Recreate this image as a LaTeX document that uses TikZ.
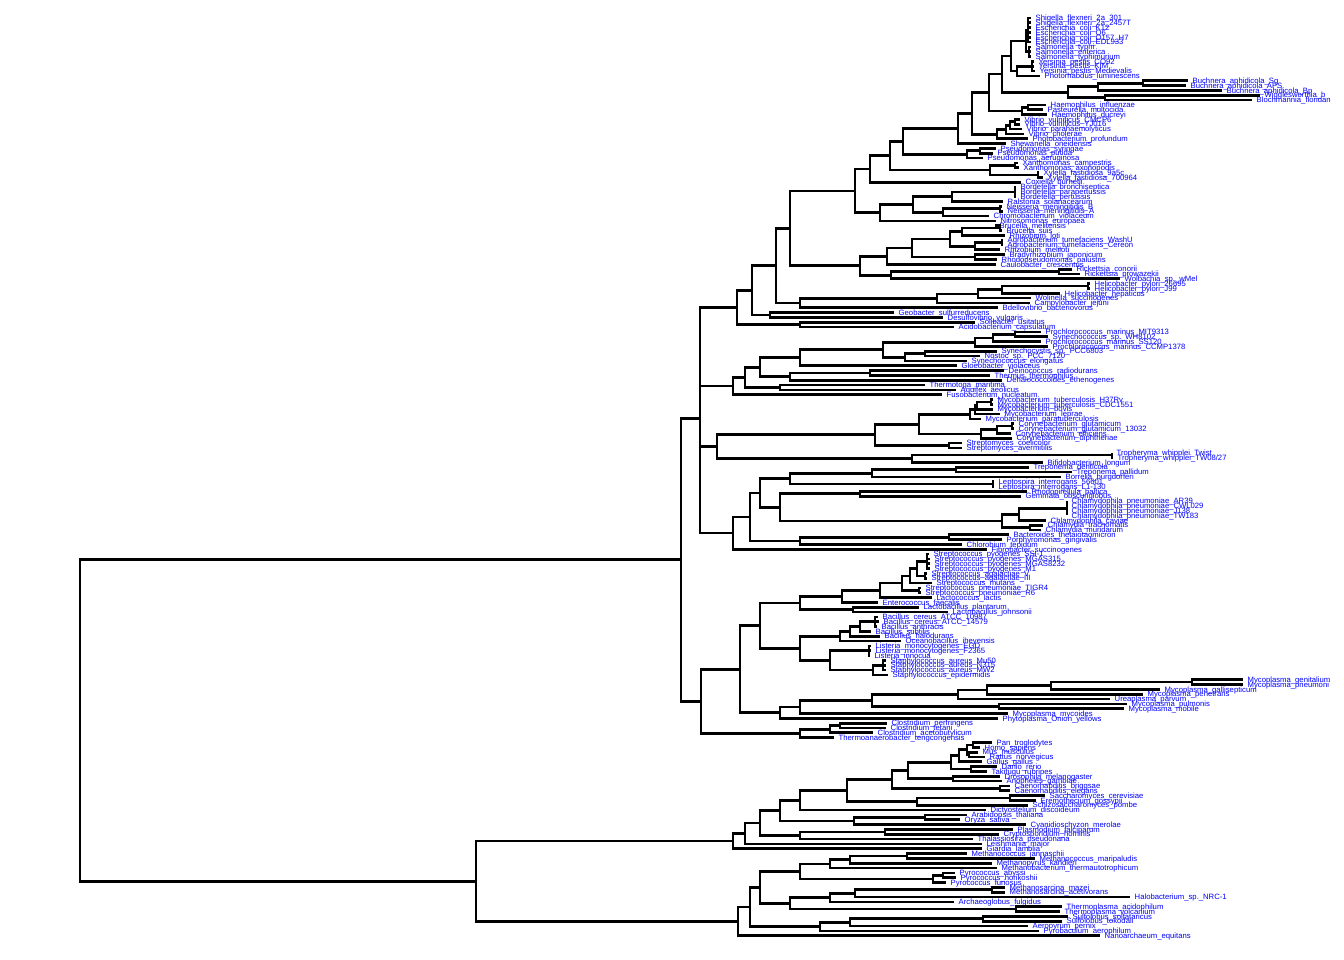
\documentclass[tikz,border=0pt]{standalone}
\usepackage{fontspec}
\setmainfont{Liberation Sans}

\tikzset{
  branch/.style={line width=2.7pt},
  leaf/.style={anchor=west, inner sep=0pt, xshift=4.5pt, text=blue,
    font=\fontsize{7.7}{7.7}\selectfont, text height=5.4pt, text depth=0pt}
}

% tip: name, row, x of tip, label
\newcommand\leafat[4]{%
  \pgfmathsetmacro\ly{18+4.83*(#2-1)}%
  \expandafter\xdef\csname ty@#1\endcsname{\ly}%
  \coordinate (#1) at (#3,\ly);
  \node[leaf] (#1-lbl) at (#1) {#4};
}
% inner node: name, x, children (its height is the mean of theirs)
\newcommand\clade[3]{%
  \gdef\ysum{0}%
  \foreach \ch [count=\kk] in {#3}{%
    \edef\yc{\csname ty@\ch\endcsname}%
    \pgfmathparse{\ysum+\yc}\xdef\ysum{\pgfmathresult}\xdef\nch{\kk}}%
  \pgfmathsetmacro\ly{\ysum/\nch}%
  \expandafter\xdef\csname ty@#1\endcsname{\ly}%
  \coordinate (#1) at (#2,\ly);
  \foreach \ch in {#3}{\draw[branch] (#1) |- (\ch);}
}

\begin{document}
\begin{tikzpicture}[x=1pt,y=-1pt]
\fill[white] (0,0) rectangle (1344,960);
\useasboundingbox (0,0) rectangle (1344,960);

%tips
\leafat{sfa}{1}{1031}{Shigella\_flexneri\_2a\_301}
\leafat{sfb}{2}{1031}{Shigella\_flexneri\_2a\_2457T}
\leafat{eck}{3}{1031}{Escherichia\_coli\_K12}
\leafat{eco}{4}{1031}{Escherichia\_coli\_O6}
\leafat{ecs}{5}{1031}{Escherichia\_coli\_O157\_H7}
\leafat{ece}{6}{1031}{Escherichia\_coli\_EDL933}
\leafat{sty}{7}{1031}{Salmonella\_typhi}
\leafat{sen}{8}{1031}{Salmonella\_enterica}
\leafat{stym}{9}{1031}{Salmonella\_typhimurium}
\leafat{ypc}{10}{1034}{Yersinia\_pestis\_CO92}
\leafat{ypk}{11}{1034}{Yersinia\_pestis\_KIM}
\leafat{ypm}{12}{1035}{Yersinia\_pestis\_Medievalis}
\leafat{plu}{13}{1040}{Photorhabdus\_luminescens}
\leafat{bua}{14}{1188}{Buchnera\_aphidicola\_Sg}
\leafat{bub}{15}{1186}{Buchnera\_aphidicola\_APS}
\leafat{buc}{16}{1222}{Buchnera\_aphidicola\_Bp}
\leafat{wbr}{17}{1260}{Wigglesworthia\_b}
\leafat{bfl}{18}{1252}{Blochmannia\_floridan}
\leafat{hin}{19}{1046}{Haemophilus\_influenzae}
\leafat{pmu}{20}{1043}{Pasteurella\_multocida}
\leafat{hdu}{21}{1047}{Haemophilus\_ducreyi}
\leafat{vvc}{22}{1020}{Vibrio\_vulnificus\_CMCP6}
\leafat{vvy}{23}{1020}{Vibrio\_vulnificus\_YJ016}
\leafat{vpa}{24}{1022}{Vibrio\_parahaemolyticus}
\leafat{vch}{25}{1024}{Vibrio\_cholerae}
\leafat{ppr}{26}{1028}{Photobacterium\_profundum}
\leafat{son}{27}{1006}{Shewanella\_oneidensis}
\leafat{psy}{28}{996}{Pseudomonas\_syringae}
\leafat{ppu}{29}{993}{Pseudomonas\_putida}
\leafat{pae}{30}{983}{Pseudomonas\_aeruginosa}
\leafat{xca}{31}{1018}{Xanthomonas\_campestris}
\leafat{xax}{32}{1019}{Xanthomonas\_axonopodis}
\leafat{xfa}{33}{1039}{Xylella\_fastidiosa\_9a5c}
\leafat{xfb}{34}{1043}{Xylella\_fastidiosa\_700964}
\leafat{cbu}{35}{1021}{Coxiella\_burnetii}
\leafat{bbr}{36}{1016}{Bordetella\_bronchiseptica}
\leafat{bpa}{37}{1016}{Bordetella\_parapertussis}
\leafat{bpe}{38}{1016}{Bordetella\_pertussis}
\leafat{rso}{39}{1003}{Ralstonia\_solanacearum}
\leafat{nmb}{40}{1002}{Neisseria\_meningitidis\_B}
\leafat{nma}{41}{1003}{Neisseria\_meningitidis\_A}
\leafat{cvi}{42}{989}{Chromobacterium\_violaceum}
\leafat{neu}{43}{996}{Nitrosomonas\_europaea}
\leafat{bme}{44}{995}{Brucella\_melitensis}
\leafat{bsu}{45}{1002}{Brucella\_suis}
\leafat{rlo}{46}{1005}{Rhizobium\_loti}
\leafat{atw}{47}{1003}{Agrobacterium\_tumefaciens\_WashU}
\leafat{atc}{48}{1003}{Agrobacterium\_tumefaciens\_Cereon}
\leafat{rme}{49}{1000}{Rhizobium\_meliloti}
\leafat{bja}{50}{1005}{Bradyrhizobium\_japonicum}
\leafat{rpa}{51}{997}{Rhodopseudomonas\_palustris}
\leafat{ccr}{52}{996}{Caulobacter\_crescentus}
\leafat{rco}{53}{1072}{Rickettsia\_conorii}
\leafat{rpr}{54}{1080}{Rickettsia\_prowazekii}
\leafat{wol}{55}{1120}{Wolbachia\_sp.\_wMel}
\leafat{hpa}{56}{1090}{Helicobacter\_pylori\_26695}
\leafat{hpb}{57}{1090}{Helicobacter\_pylori\_J99}
\leafat{hhe}{58}{1060}{Helicobacter\_hepaticus}
\leafat{wsu}{59}{1031}{Wolinella\_succinogenes}
\leafat{cje}{60}{1030}{Campylobacter\_jejuni}
\leafat{bba}{61}{998}{Bdellovibrio\_bacteriovorus}
\leafat{gsu}{62}{894}{Geobacter\_sulfurreducens}
\leafat{dvu}{63}{943}{Desulfovibrio\_vulgaris}
\leafat{sus}{64}{975}{Solibacter\_usitatus}
\leafat{aca}{65}{954}{Acidobacterium\_capsulatum}
\leafat{pma}{66}{1041}{Prochlorococcus\_marinus\_MIT9313}
\leafat{swh}{67}{1048}{Synechococcus\_sp.\_WH8102}
\leafat{pmb}{68}{1041}{Prochlorococcus\_marinus\_SS120}
\leafat{pmc}{69}{1048}{Prochlorococcus\_marinus\_CCMP1378}
\leafat{syc}{70}{997}{Synechocystis\_sp.\_PCC6803}
\leafat{nos}{71}{980}{Nostoc\_sp.\_PCC\_7120}
\leafat{sel}{72}{967}{Synechococcus\_elongatus}
\leafat{gvi}{73}{957}{Gloeobacter\_violaceus}
\leafat{dra}{74}{1004}{Deinococcus\_radiodurans}
\leafat{tth}{75}{990}{Thermus\_thermophilus}
\leafat{deh}{76}{1002}{Dehalococcoides\_ethenogenes}
\leafat{tma}{77}{925}{Thermotoga\_maritima}
\leafat{aae}{78}{956}{Aquifex\_aeolicus}
\leafat{fnu}{79}{942}{Fusobacterium\_nucleatum}
\leafat{mta}{80}{993}{Mycobacterium\_tuberculosis\_H37Rv}
\leafat{mtc}{81}{993}{Mycobacterium\_tuberculosis\_CDC1551}
\leafat{mbo}{82}{993}{Mycobacterium\_bovis}
\leafat{mle}{83}{1000}{Mycobacterium\_leprae}
\leafat{mpa}{84}{981}{Mycobacterium\_paratuberculosis}
\leafat{cga}{85}{1014}{Corynebacterium\_glutamicum}
\leafat{cgb}{86}{1014}{Corynebacterium\_glutamicum\_13032}
\leafat{cef}{87}{1011}{Corynebacterium\_efficiens}
\leafat{cdi}{88}{1012}{Corynebacterium\_diphtheriae}
\leafat{sco}{89}{962}{Streptomyces\_coelicolor}
\leafat{sav}{90}{962}{Streptomyces\_avermitilis}
\leafat{twa}{91}{1112}{Tropheryma\_whipplei\_Twist}
\leafat{twb}{92}{1113}{Tropheryma\_whipplei\_TW08/27}
\leafat{blo}{93}{1043}{Bifidobacterium\_longum}
\leafat{tde}{94}{1029}{Treponema\_denticola}
\leafat{tpa}{95}{1072}{Treponema\_pallidum}
\leafat{bbu}{96}{1061}{Borrelia\_burgdorferi}
\leafat{lia}{97}{994}{Leptospira\_interrogans\_56601}
\leafat{lib}{98}{994}{Leptospira\_interrogans\_L1-130}
\leafat{rba}{99}{1027}{Rhodopirellula\_baltica}
\leafat{gob}{100}{1021}{Gemmata\_obscuriglobus}
\leafat{cpa}{101}{1067}{Chlamydophila\_pneumoniae\_AR39}
\leafat{cpb}{102}{1067}{Chlamydophila\_pneumoniae\_CWL029}
\leafat{cpc}{103}{1067}{Chlamydophila\_pneumoniae\_J138}
\leafat{cpd}{104}{1067}{Chlamydophila\_pneumoniae\_TW183}
\leafat{cca}{105}{1046}{Chlamydophila\_caviae}
\leafat{ctr}{106}{1043}{Chlamydia\_trachomatis}
\leafat{cmu}{107}{1041}{Chlamydia\_muridarum}
\leafat{bth}{108}{1009}{Bacteroides\_thetaiotaomicron}
\leafat{pgi}{109}{1002}{Porphyromonas\_gingivalis}
\leafat{ctp}{110}{962}{Chlorobium\_tepidum}
\leafat{fsu}{111}{987}{Fibrobacter\_succinogenes}
\leafat{spa}{112}{929}{Streptococcus\_pyogenes\_SSI-1}
\leafat{spb}{113}{930}{Streptococcus\_pyogenes\_MGAS315}
\leafat{spc}{114}{930}{Streptococcus\_pyogenes\_MGAS8232}
\leafat{spd}{115}{930}{Streptococcus\_pyogenes\_M1}
\leafat{sgv}{116}{927}{Streptococcus\_agalactiae\_V}
\leafat{sgi}{117}{927}{Streptococcus\_agalactiae\_III}
\leafat{smu}{118}{932}{Streptococcus\_mutans}
\leafat{snt}{119}{921}{Streptococcus\_pneumoniae\_TIGR4}
\leafat{snr}{120}{921}{Streptococcus\_pneumoniae\_R6}
\leafat{lla}{121}{932}{Lactococcus\_lactis}
\leafat{efa}{122}{878}{Enterococcus\_faecalis}
\leafat{lpl}{123}{919}{Lactobacillus\_plantarum}
\leafat{ljo}{124}{948}{Lactobacillus\_johnsonii}
\leafat{bca}{125}{878}{Bacillus\_cereus\_ATCC\_10987}
\leafat{bcb}{126}{879}{Bacillus\_cereus\_ATCC\_14579}
\leafat{ban}{127}{877}{Bacillus\_anthracis}
\leafat{bsb}{128}{871}{Bacillus\_subtilis}
\leafat{bha}{129}{880}{Bacillus\_halodurans}
\leafat{oih}{130}{901}{Oceanobacillus\_iheyensis}
\leafat{lme}{131}{871}{Listeria\_monocytogenes\_EGD}
\leafat{lmf}{132}{871}{Listeria\_monocytogenes\_F2365}
\leafat{lin}{133}{870}{Listeria\_innocua}
\leafat{saa}{134}{886}{Staphylococcus\_aureus\_Mu50}
\leafat{sab}{135}{886}{Staphylococcus\_aureus\_N315}
\leafat{sac}{136}{886}{Staphylococcus\_aureus\_MW2}
\leafat{sep}{137}{888}{Staphylococcus\_epidermidis}
\leafat{mge}{138}{1243}{Mycoplasma\_genitalium}
\leafat{mpn}{139}{1243}{Mycoplasma\_pneumoni}
\leafat{mga}{140}{1160}{Mycoplasma\_gallisepticum}
\leafat{mpe}{141}{1143}{Mycoplasma\_penetrans}
\leafat{upa}{142}{1110}{Ureaplasma\_parvum}
\leafat{mpu}{143}{1127}{Mycoplasma\_pulmonis}
\leafat{mmo}{144}{1124}{Mycoplasma\_mobile}
\leafat{mmy}{145}{1008}{Mycoplasma\_mycoides}
\leafat{poy}{146}{998}{Phytoplasma\_Onion\_yellows}
\leafat{cpe}{147}{887}{Clostridium\_perfringens}
\leafat{cte}{148}{886}{Clostridium\_tetani}
\leafat{cac}{149}{873}{Clostridium\_acetobutylicum}
\leafat{tte}{150}{834}{Thermoanaerobacter\_tengcongensis}
\leafat{ptr}{151}{992}{Pan\_troglodytes}
\leafat{hsa}{152}{980}{Homo\_sapiens}
\leafat{mmu}{153}{978}{Mus\_musculus}
\leafat{rno}{154}{985}{Rattus\_norvegicus}
\leafat{gga}{155}{982}{Gallus\_gallus}
\leafat{dre}{156}{997}{Danio\_rerio}
\leafat{tru}{157}{987}{Takifugu\_rubripes}
\leafat{dme}{158}{1000}{Drosophila\_melanogaster}
\leafat{aga}{159}{1002}{Anopheles\_gambiae}
\leafat{cbr}{160}{1010}{Caenorhabditis\_briggsae}
\leafat{cel}{161}{1010}{Caenorhabditis\_elegans}
\leafat{sce}{162}{1045}{Saccharomyces\_cerevisiae}
\leafat{ego}{163}{1036}{Eremothecium\_gossypii}
\leafat{spo}{164}{1028}{Schizosaccharomyces\_pombe}
\leafat{ddi}{165}{986}{Dictyostelium\_discoideum}
\leafat{ath}{166}{967}{Arabidopsis\_thaliana}
\leafat{osa}{167}{960}{Oryza\_sativa}
\leafat{cme}{168}{1026}{Cyanidioschyzon\_merolae}
\leafat{pfa}{169}{1013}{Plasmodium\_falciparum}
\leafat{cho}{170}{999}{Cryptosporidium\_hominis}
\leafat{tps}{171}{973}{Thalassiosira\_pseudonana}
\leafat{lmj}{172}{982}{Leishmania\_major}
\leafat{gla}{173}{982}{Giardia\_lamblia}
\leafat{mja}{174}{967}{Methanococcus\_jannaschii}
\leafat{mmp}{175}{1035}{Methanococcus\_maripaludis}
\leafat{mka}{176}{992}{Methanopyrus\_kandleri}
\leafat{mtt}{177}{997}{Methanobacterium\_thermautotrophicum}
\leafat{pab}{178}{955}{Pyrococcus\_abyssi}
\leafat{pho}{179}{956}{Pyrococcus\_horikoshii}
\leafat{pfu}{180}{946}{Pyrococcus\_furiosus}
\leafat{mmz}{181}{1005}{Methanosarcina\_mazei}
\leafat{mac}{182}{1005}{Methanosarcina\_acetivorans}
\leafat{hal}{183}{1130}{Halobacterium\_sp.\_NRC-1}
\leafat{afu}{184}{954}{Archaeoglobus\_fulgidus}
\leafat{tac}{185}{1062}{Thermoplasma\_acidophilum}
\leafat{tvo}{186}{1060}{Thermoplasma\_volcanium}
\leafat{sso}{187}{1068}{Sulfolobus\_solfataricus}
\leafat{sto}{188}{1062}{Sulfolobus\_tokodaii}
\leafat{ape}{189}{1028}{Aeropyrum\_pernix}
\leafat{pya}{190}{1039}{Pyrobaculum\_aerophilum}
\leafat{neq}{191}{1100}{Nanoarchaeum\_equitans}

%gamma
\clade{Ec}{1028}{sfa,sfb,eck,eco,ecs,ece}
\clade{Sal}{1029}{sty,sen,stym}
\clade{Es}{1026}{Ec,Sal}
\clade{Yp}{1032}{ypc,ypk,ypm}
\clade{Ypp}{1017}{Yp,plu}
\clade{Ent}{1011}{Es,Ypp}
\clade{Bsa}{1143}{bua,bub}
\clade{Buc}{1098}{Bsa,buc}
\clade{Wb}{1105}{wbr,bfl}
\clade{Endo}{1068}{Buc,Wb}
\clade{Ee}{1002}{Ent,Endo}
\clade{Hip}{1028}{hin,pmu}
\clade{Pas}{1022}{Hip,hdu}
\clade{Eep}{989}{Ee,Pas}
\clade{Vv}{1015}{vvc,vvy}
\clade{Vvp}{1010}{Vv,vpa}
\clade{Vvc}{1006}{Vvp,vch}
\clade{Vib}{997}{Vvc,ppr}
\clade{Epv}{972}{Eep,Vib}
\clade{She}{958}{Epv,son}
\clade{Psp}{980}{psy,ppu}
\clade{Pse}{967}{Psp,pae}
\clade{Ga}{903}{She,Pse}
\clade{Xan}{1015}{xca,xax}
\clade{Xyl}{1038}{xfa,xfb}
\clade{Xx}{990}{Xan,Xyl}
\clade{Gb}{890}{Ga,Xx}
\clade{Gc}{870}{Gb,cbu}
%beta
\clade{Bor}{1015}{bbr,bpa,bpe}
\clade{Bra}{952}{Bor,rso}
\clade{Nei}{1000}{nmb,nma}
\clade{Nec}{943}{Nei,cvi}
\clade{Bea}{913}{Bra,Nec}
\clade{Beta}{880}{Bea,neu}
\clade{Gbeta}{855}{Gc,Beta}
%alpha
\clade{Bru}{1000}{bme,bsu}
\clade{Brl}{962}{Bru,rlo}
\clade{Agr}{1002}{atw,atc}
\clade{Agm}{975}{Agr,rme}
\clade{Rhz}{950}{Brl,Agm}
\clade{Brp}{975}{bja,rpa}
\clade{Rhb}{912}{Rhz,Brp}
\clade{Cau}{887}{Rhb,ccr}
\clade{Ric}{1059}{rco,rpr}
\clade{Rkw}{891}{Ric,wol}
\clade{Alpha}{860}{Cau,Rkw}
\clade{Gba}{790}{Gbeta,Alpha}
%epsilon, delta, acidobacteria
\clade{Hpy}{1088}{hpa,hpb}
\clade{Hel}{1002}{Hpy,hhe}
\clade{Hwo}{978}{Hel,wsu}
\clade{Eps}{937}{Hwo,cje}
\clade{Epb}{800}{Eps,bba}
\clade{Prt}{776}{Gba,Epb}
\clade{Del}{770}{gsu,dvu}
\clade{Prd}{752}{Prt,Del}
\clade{Aci}{800}{sus,aca}
\clade{Pra}{737}{Prd,Aci}
%cyanobacteria and others
\clade{Mw}{1015}{pma,swh}
\clade{Mws}{993}{Mw,pmb}
\clade{Pro}{975}{Mws,pmc}
\clade{Sno}{925}{syc,nos}
\clade{Sne}{905}{Sno,sel}
\clade{Cy}{883}{Pro,Sne}
\clade{Cya}{800}{Cy,gvi}
\clade{Dt}{870}{dra,tth}
\clade{Dtd}{790}{Dt,deh}
\clade{Cdt}{760}{Cya,Dtd}
\clade{Taq}{780}{tma,aae}
\clade{Cta}{745}{Cdt,Taq}
\clade{Ctf}{733}{Cta,fnu}
%actinobacteria
\clade{Mtb}{991}{mta,mtc}
\clade{Mtbo}{977}{Mtb,mbo}
\clade{Mlc}{975}{Mtbo,mle}
\clade{Myc}{970}{Mlc,mpa}
\clade{Cgl}{1012}{cga,cgb}
\clade{Cge}{997}{Cgl,cef}
\clade{Cor}{981}{Cge,cdi}
\clade{Mco}{919}{Myc,Cor}
\clade{Strp}{949}{sco,sav}
\clade{Mcs}{875}{Mco,Strp}
\clade{Twh}{1112}{twa,twb}
\clade{Tbl}{912}{Twh,blo}
\clade{Act}{717}{Mcs,Tbl}
%spirochetes to fibrobacter
\clade{Tre}{956}{tde,tpa}
\clade{Trb}{872}{Tre,bbu}
\clade{Lep}{993}{lia,lib}
\clade{Spi}{790}{Trb,Lep}
\clade{Pla}{860}{rba,gob}
\clade{Cpn}{1067}{cpa,cpb,cpc,cpd}
\clade{Cpc}{1019}{Cpn,cca}
\clade{Ctm}{1030}{ctr,cmu}
\clade{Chl}{1002}{Cpc,Ctm}
\clade{Plc}{780}{Pla,Chl}
\clade{Bpo}{949}{bth,pgi}
\clade{Bcb}{800}{Bpo,ctp}
\clade{Sp}{760}{Spi,Plc}
\clade{Spb}{750}{Sp,Bcb}
\clade{Spf}{733}{Spb,fsu}
\clade{Btop}{700}{Pra,Ctf,Act,Spf}
%firmicutes
\clade{Spy}{927}{spa,spb,spc,spd}
\clade{Sag}{925}{sgv,sgi}
\clade{Sps}{917}{Spy,Sag}
\clade{Spm}{910}{Sps,smu}
\clade{Spn}{919}{snt,snr}
\clade{Stc}{902}{Spm,Spn}
\clade{Stl}{880}{Stc,lla}
\clade{Ste}{842}{Stl,efa}
\clade{Lbc}{853}{lpl,ljo}
\clade{Lab}{800}{Ste,Lbc}
\clade{Bce}{875}{bca,bcb,ban}
\clade{Bcs}{860}{Bce,bsb}
\clade{Bhs}{850}{Bcs,bha}
\clade{Bho}{840}{Bhs,oih}
\clade{Lis}{869}{lme,lmf,lin}
\clade{Sau}{883}{saa,sab,sac}
\clade{Sta}{873}{Sau,sep}
\clade{Lst}{830}{Lis,Sta}
\clade{Bac}{800}{Bho,Lst}
\clade{Bil}{760}{Lab,Bac}
\clade{Mgp}{1192}{mge,mpn}
\clade{Mgg}{1051}{Mgp,mga}
\clade{Mgpe}{987}{Mgg,mpe}
\clade{Mur}{958}{Mgpe,upa}
\clade{Mpm}{999}{mpu,mmo}
\clade{Mol}{872}{Mur,Mpm}
\clade{Molb}{800}{Mol,mmy}
\clade{Molc}{780}{Molb,poy}
\clade{Fir}{740}{Bil,Molc}
\clade{Cloa}{840}{cpe,cte}
\clade{Clob}{830}{Cloa,cac}
\clade{Clo}{800}{Clob,tte}
\clade{Firm}{701}{Fir,Clo}
\clade{Bact}{681}{Btop,Firm}
%eukaryotes
\clade{Pth}{973}{ptr,hsa}
\clade{Mr}{969}{mmu,rno}
\clade{Mam}{967}{Pth,Mr}
\clade{Amn}{959}{Mam,gga}
\clade{Fish}{971}{dre,tru}
\clade{Vert}{951}{Amn,Fish}
\clade{Ins}{953}{dme,aga}
\clade{Bila}{908}{Vert,Ins}
\clade{Cae}{1000}{cbr,cel}
\clade{Ani}{892}{Bila,Cae}
\clade{Yst}{1010}{sce,ego}
\clade{Fun}{917}{Yst,spo}
\clade{Opi}{847}{Ani,Fun}
\clade{Opd}{800}{Opi,ddi}
\clade{Plt}{925}{ath,osa}
\clade{Plr}{854}{Plt,cme}
\clade{Opp}{780}{Opd,Plr}
\clade{Api}{885}{pfa,cho}
\clade{Apt}{800}{Api,tps}
\clade{Eua}{760}{Opp,Apt}
\clade{Eub}{745}{Eua,lmj}
\clade{Euk}{733}{Eub,gla}
%archaea
\clade{Mjm}{907}{mja,mmp}
\clade{Mjk}{850}{Mjm,mka}
\clade{Mjt}{830}{Mjk,mtt}
\clade{Pyh}{943}{pab,pho}
\clade{Pyr}{933}{Pyh,pfu}
\clade{Eura}{800}{Mjt,Pyr}
\clade{Msa}{992}{mmz,mac}
\clade{Msh}{855}{Msa,hal}
\clade{Msf}{830}{Msh,afu}
\clade{Thp}{1016}{tac,tvo}
\clade{Eurb}{790}{Msf,Thp}
\clade{Eury}{760}{Eura,Eurb}
\clade{Sul}{983}{sso,sto}
\clade{Sua}{850}{Sul,ape}
\clade{Cre}{820}{Sua,pya}
\clade{Arc}{750}{Eury,Cre}
\clade{Arch}{738}{Arc,neq}
\clade{Ea}{476}{Euk,Arch}
\clade{Root}{80}{Bact,Ea}
\end{tikzpicture}
\end{document}
